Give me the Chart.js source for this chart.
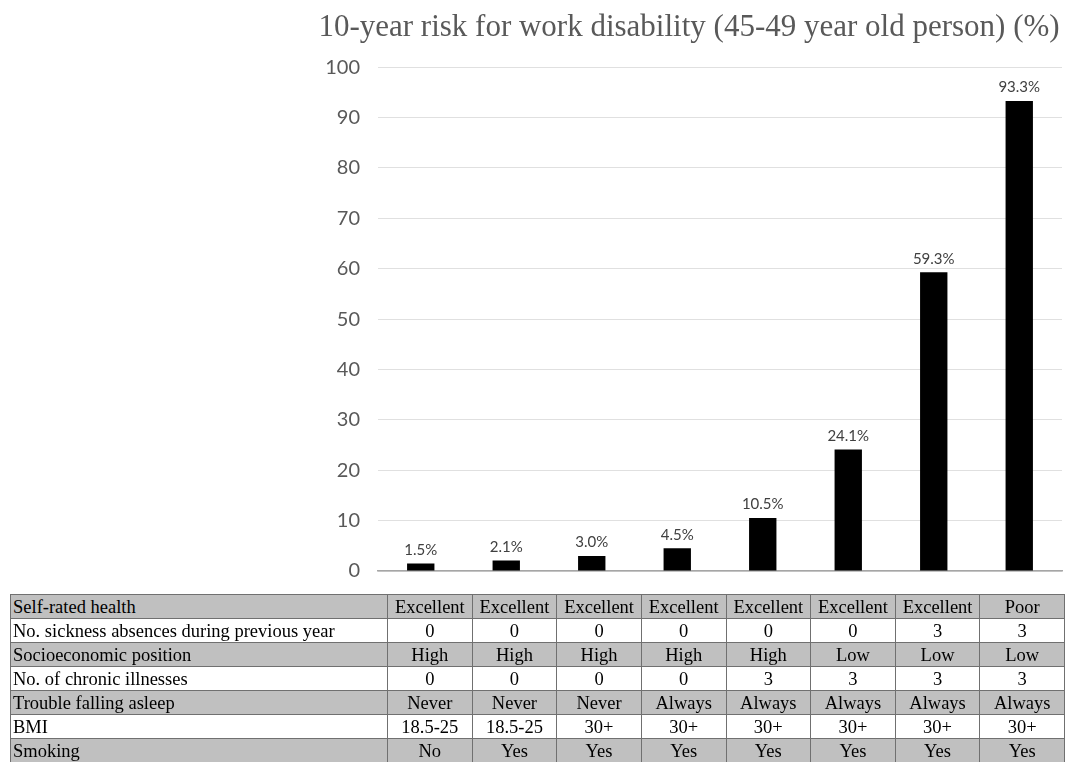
<!DOCTYPE html>
<html>
<head>
<meta charset="utf-8">
<script src="https://cdn.jsdelivr.net/npm/chart.js@4/dist/chart.umd.min.js"></script>
<style>
  html, body { margin: 0; padding: 0; background: #fff; }
  body { width: 1077px; height: 762px; position: relative; overflow: hidden; }
  #wrap { position: absolute; left: 316px; top: 0; width: 761px; height: 601px; }
  #risk {
    position: absolute; left: 10px; top: 594px; width: 1055px;
    border-collapse: collapse; table-layout: fixed;
    font-family: "Liberation Serif", "Times New Roman", serif; font-size: 18.5px; color: #000;
  }
  #risk td { border: 1px solid #707070; height: 23px; padding: 0 2px; text-align: center; line-height: 22px; white-space: nowrap; overflow: hidden; }
  #risk td:first-child { text-align: left; padding-left: 2px; }
  #risk tr.shade td { background: #c0c0c0; }
</style>
</head>
<body>
<div id="wrap"><canvas id="myChart" width="761" height="601"></canvas></div>
<table id="risk"></table>
<script>
const scenarios = ['1', '2', '3', '4', '5', '6', '7', '8']
const riskValues = [1.5, 2.1, 3.0, 4.5, 10.5, 24.1, 59.3, 93.3]

// table below the bars, one row per risk factor
const rowNames = ['Self-rated health', 'No. sickness absences during previous year', 'Socioeconomic position',
  'No. of chronic illnesses', 'Trouble falling asleep', 'BMI', 'Smoking']
const selfRated = ['Excellent', 'Excellent', 'Excellent', 'Excellent', 'Excellent', 'Excellent', 'Excellent', 'Poor']
const absences = ['0', '0', '0', '0', '0', '0', '3', '3']
const socioPos = ['High', 'High', 'High', 'High', 'High', 'Low', 'Low', 'Low']
const chronic = ['0', '0', '0', '0', '3', '3', '3', '3']
const asleep = ['Never', 'Never', 'Never', 'Always', 'Always', 'Always', 'Always', 'Always']
const bmi = ['18.5-25', '18.5-25', '30+', '30+', '30+', '30+', '30+', '30+']
const smoking = ['No', 'Yes', 'Yes', 'Yes', 'Yes', 'Yes', 'Yes', 'Yes']

const rowValues = [selfRated, absences, socioPos, chronic, asleep, bmi, smoking]

let colgroup = '<colgroup><col style="width:377px">'
scenarios.forEach(() => colgroup += '<col>')
colgroup += '</colgroup>'
let html = colgroup
rowNames.forEach((name, i) => {
  html += '<tr class="' + (i % 2 === 0 ? 'shade' : '') + '"><td>' + name + '</td>'
  rowValues[i].forEach(v => html += '<td>' + v + '</td>')
  html += '</tr>'
})
document.getElementById('risk').innerHTML = html

// labels on top of the bars
const valueLabels = {
  id: 'valueLabels',
  afterDatasetsDraw(chart) {
    const c = chart.ctx
    const meta = chart.getDatasetMeta(0)
    c.save()
    c.font = '15px Lato, "Open Sans", sans-serif'
    c.fillStyle = '#404040'
    c.textAlign = 'center'
    c.textBaseline = 'bottom'
    meta.data.forEach((bar, i) => {
      c.fillText(riskValues[i].toFixed(1) + '%', bar.x, bar.y - 6)
    })
    c.restore()
  }
}

const ctx = document.getElementById('myChart').getContext('2d')

new Chart(ctx, {
  type: 'bar',
  data: {
    labels: scenarios,
    datasets: [{
      data: riskValues,
      backgroundColor: '#000',
      borderWidth: 0,
      barPercentage: 0.8,
      categoryPercentage: 0.4
    }]
  },
  options: {
    responsive: false,
    animation: false,
    layout: { padding: { left: 0, right: 15, bottom: 9 } },
    plugins: {
      legend: { display: false },
      tooltip: { enabled: false },
      title: {
        display: true,
        text: '10-year risk for work disability (45-49 year old person) (%)',
        color: '#595959',
        font: { family: '"Liberation Serif", "Times New Roman", serif', size: 31, weight: 'normal' },
        padding: { top: 9, bottom: 21 }
      }
    },
    scales: {
      x: {
        afterFit(scale) { scale.height = 0 },
        grid: { display: false, drawTicks: false },
        ticks: { display: false },
        border: { color: '#a6a6a6', width: 1.5 }
      },
      y: {
        min: 0,
        max: 100,
        afterFit(scale) { scale.width = 62 },
        ticks: {
          stepSize: 10,
          padding: 18,
          color: '#595959',
          font: { family: 'Lato, "Open Sans", sans-serif', size: 20 }
        },
        grid: { color: '#e0e0e0', drawTicks: false },
        border: { display: false }
      }
    }
  },
  plugins: [valueLabels]
})
</script>
</body>
</html>
